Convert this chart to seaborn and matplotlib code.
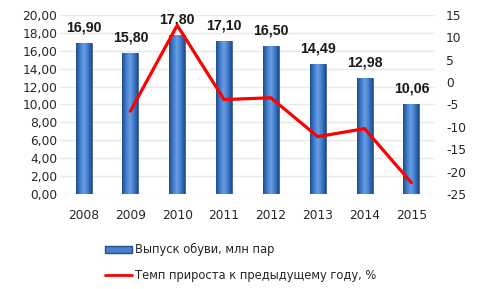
import numpy as np
import pandas as pd
import seaborn as sns
import matplotlib.pyplot as plt
from matplotlib.patches import Patch
from matplotlib.lines import Line2D
from matplotlib.colors import LinearSegmentedColormap

years = ["2008", "2009", "2010", "2011", "2012", "2013", "2014", "2015"]
output = [16.90, 15.80, 17.80, 17.10, 16.50, 14.49, 12.98, 10.06]
growth = [np.nan, -6.5, 12.7, -3.9, -3.5, -12.2, -10.4, -22.5]

bar_label = "Выпуск обуви, млн пар"
line_label = "Темп прироста к предыдущему году, %"

sns.set_style("white")
plt.rcParams['font.family'] = ['DejaVu Sans']
plt.rcParams['axes.unicode_minus'] = False

df = pd.DataFrame({"year": years, "output": output, "growth": growth})

fig = plt.figure(figsize=(4.81, 2.89), dpi=100)
ax = fig.add_axes([0.125, 0.329, 0.779, 0.619])

sns.barplot(data=df, x="year", y="output", color="#3b6fbf", width=0.34,
            edgecolor="#25508f", linewidth=0.5, saturation=1, ax=ax, zorder=3)

# cylinder-like shading on each bar
shade = LinearSegmentedColormap.from_list(
    "shade", ["#1f4c8a", "#3f7bcc", "#6aa0e2", "#3f7bcc", "#1f4c8a"])
grad = np.linspace(0, 1, 64).reshape(1, -1)
for p in ax.patches:
    x0, y0 = p.get_x(), p.get_y()
    w, h = p.get_width(), p.get_height()
    im = ax.imshow(grad, cmap=shade, aspect="auto", zorder=3.5,
                   extent=(x0, x0 + w, y0, y0 + h), origin="lower")
    im.set_clip_path(p)
ax.set_aspect("auto")

for i, v in enumerate(output):
    ax.text(i, v + 0.95, f"{v:.2f}".replace(".", ","), ha="center", va="bottom",
            fontsize=10.2, fontweight="bold", color="#1a1a1a", zorder=5,
            family="Liberation Sans")

ax.set_ylim(0, 20)
ax.set_yticks(np.arange(0, 21, 2))
ax.set_yticklabels([f"{t:.2f}".replace(".", ",") for t in np.arange(0, 21, 2)])
ax.set_xlim(-0.5, 7.5)
ax.yaxis.grid(True, color="#e8e8e8", linewidth=1, zorder=0)
ax.set_axisbelow(True)
ax.set_xlabel("")
ax.set_ylabel("")
for s in ax.spines.values():
    s.set_visible(False)
ax.tick_params(axis="both", length=0, labelsize=8.8, colors="#262626")
ax.tick_params(axis="x", pad=11)
ax.tick_params(axis="y", pad=2)

ax2 = ax.twinx()
sns.lineplot(x=np.arange(len(years)), y=growth, color="#ff0000", linewidth=2.3,
             ax=ax2, zorder=4)
ax2.set_ylim(-25, 15)
ax2.set_yticks(np.arange(-25, 16, 5))
for s in ax2.spines.values():
    s.set_visible(False)
ax2.tick_params(axis="y", length=0, labelsize=8.8, colors="#262626", pad=8)
ax2.set_xlim(-0.5, 7.5)

handles = [Patch(facecolor="#4a80cc", edgecolor="#25508f", label=bar_label),
           Line2D([0], [0], color="#ff0000", linewidth=2, label=line_label)]
fig.legend(handles=handles, loc="upper left", bbox_to_anchor=(0.207, 0.178),
           frameon=False, fontsize=8.3, handlelength=2.3, handleheight=0.5,
           handletextpad=0.25, labelspacing=1.05, borderpad=0)

fig.savefig("out.png", dpi=100)
